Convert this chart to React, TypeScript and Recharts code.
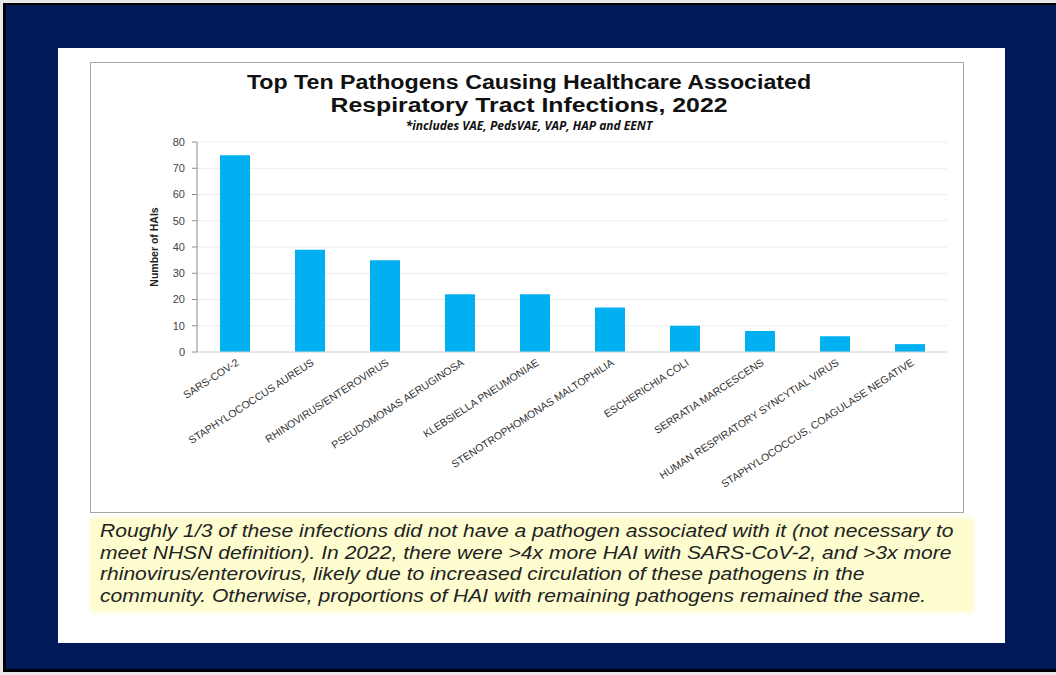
import { BarChart, Bar, XAxis, YAxis, CartesianGrid } from "recharts";

const pathogens = [
  "SARS-COV-2",
  "STAPHYLOCOCCUS AUREUS",
  "RHINOVIRUS/ENTEROVIRUS",
  "PSEUDOMONAS AERUGINOSA",
  "KLEBSIELLA PNEUMONIAE",
  "STENOTROPHOMONAS MALTOPHILIA",
  "ESCHERICHIA COLI",
  "SERRATIA MARCESCENS",
  "HUMAN RESPIRATORY SYNCYTIAL VIRUS",
  "STAPHYLOCOCCUS, COAGULASE NEGATIVE",
];
const haiCounts = [75, 39, 35, 22, 22, 17, 10, 8, 6, 3];
const yTicks = [0, 10, 20, 30, 40, 50, 60, 70, 80];

const noteLines = [
  "Roughly 1/3 of these infections did not have a pathogen associated with it (not necessary to",
  "meet NHSN definition). In 2022, there were >4x more HAI with SARS-CoV-2, and >3x more",
  "rhinovirus/enterovirus, likely due to increased circulation of these pathogens in the",
  "community. Otherwise, proportions of HAI with remaining pathogens remained the same.",
];

const data = pathogens.map((name, i) => ({ name, count: haiCounts[i] }));

const AngledTick = ({ x, y, payload }: any) => (
  <g transform={`translate(${x + 3},${y + 1})`}>
    <text
      textAnchor="end"
      transform="rotate(-33)"
      fontSize={10.5}
      fontFamily="'Liberation Sans', Arial, sans-serif"
      fill="#333"
      dy={4}
    >
      {payload.value}
    </text>
  </g>
);

const titleLine = (scale: number) => ({
  fontWeight: 700,
  fontSize: 20,
  lineHeight: "23px",
  transform: `scaleX(${scale})`,
  transformOrigin: "center top",
});

export default function App() {
  return (
    <div style={{ position: "absolute", left: 0, top: 0, width: 1056, height: 675, background: "#e8e8e8" }}>
      <div
        style={{
          position: "absolute",
          left: 3,
          top: 3,
          width: 1053,
          height: 669,
          background: "#02195a",
          borderLeft: "3px solid #000",
          borderTop: "2px solid #000",
          borderBottom: "3px solid #000",
          boxSizing: "border-box",
        }}
      />
      <div style={{ position: "absolute", left: 58, top: 48, width: 947, height: 595, background: "#fff" }} />
      <div
        style={{
          position: "absolute",
          left: 90,
          top: 62,
          width: 874,
          height: 451,
          border: "1.5px solid #a6a6a6",
          boxSizing: "border-box",
        }}
      />
      <div
        style={{
          position: "absolute",
          left: 92,
          top: 62,
          width: 874,
          textAlign: "center",
          fontFamily: "'Liberation Sans', Arial, sans-serif",
          color: "#111",
        }}
      >
        <div style={{ marginTop: 9, ...titleLine(1.16) }}>Top Ten Pathogens Causing Healthcare Associated</div>
        <div style={titleLine(1.24)}>Respiratory Tract Infections, 2022</div>
        <div
          style={{
            fontFamily: "'Open Sans', Arial, sans-serif",
            fontWeight: 700,
            fontStyle: "italic",
            fontSize: 12,
            lineHeight: "17px",
          }}
        >
          *includes VAE, PedsVAE, VAP, HAP and EENT
        </div>
      </div>
      <div style={{ position: "absolute", left: 90, top: 62 }}>
        <BarChart width={874} height={451} data={data} margin={{ top: 80, right: 17, bottom: 11, left: 67 }}>
          <CartesianGrid vertical={false} stroke="#ececec" />
          <XAxis
            dataKey="name"
            interval={0}
            tick={<AngledTick />}
            tickLine={false}
            axisLine={{ stroke: "#d9d9d9" }}
            height={150}
          />
          <YAxis
            domain={[0, 80]}
            ticks={yTicks}
            width={40}
            tick={{ fontSize: 11, fill: "#444", fontFamily: "'Liberation Sans', Arial, sans-serif", dx: -5 }}
            tickLine={{ stroke: "#8c8c8c" }}
            tickSize={5}
            axisLine={{ stroke: "#8c8c8c" }}
            label={{
              value: "Number of HAIs",
              angle: -90,
              position: "insideLeft",
              offset: 0,
              dx: -3,
              style: {
                fontSize: 10.5,
                fontWeight: 700,
                fill: "#222",
                textAnchor: "middle",
                fontFamily: "'Liberation Sans Narrow', 'Liberation Sans', Arial, sans-serif",
              },
            }}
          />
          <Bar dataKey="count" fill="#00b0f0" barSize={30} isAnimationActive={false} />
        </BarChart>
      </div>
      <div
        style={{
          position: "absolute",
          left: 92,
          top: 519,
          width: 880,
          height: 92,
          background: "#fdfdd0",
          boxShadow: "0 0 4px 2px #fdfdd8",
          boxSizing: "border-box",
        }}
      />
      <div
        style={{
          position: "absolute",
          left: 100,
          top: 521,
          transform: "scaleX(1.17)",
          transformOrigin: "left top",
          fontFamily: "'Liberation Sans', Arial, sans-serif",
          fontStyle: "italic",
          fontSize: 18,
          lineHeight: "21.5px",
          color: "#222",
          whiteSpace: "nowrap",
        }}
      >
        {noteLines.map((line) => (
          <div key={line}>{line}</div>
        ))}
      </div>
    </div>
  );
}
